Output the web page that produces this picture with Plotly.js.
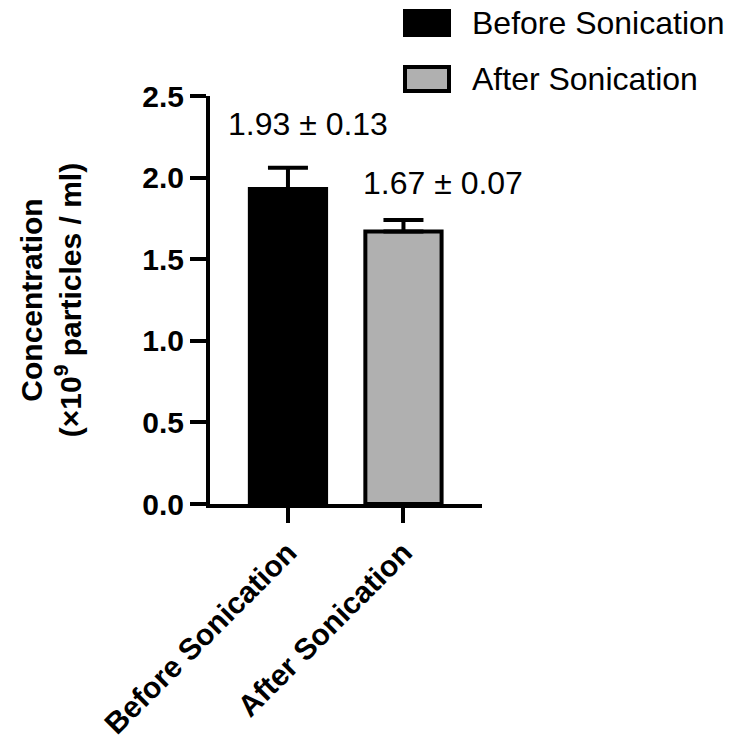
<!DOCTYPE html>
<html>
<head>
<meta charset="utf-8">
<script src="https://cdn.plot.ly/plotly-3.0.1.min.js"></script>
<style>html,body{margin:0;padding:0;background:#fff;}#chart{width:735px;height:738px;}</style>
</head>
<body>
<div id="chart"></div>
<script>
// ---- data ----
const categories = ["Before Sonication", "After Sonication"];
const means = [1.93, 1.67];
const sds = [0.13, 0.07];
const barColors = ["#000000", "#b0b0b0"];
const yTickVals = [0, 0.5, 1.0, 1.5, 2.0, 2.5];

// ---- layout helpers (pixel -> paper) ----
const W = 735, H = 738;
const M = {l: 210, r: 253, t: 96, b: 234};
const pw = W - M.l - M.r, ph = H - M.t - M.b;
const px = x => (x - M.l) / pw;
const py = y => (H - M.b - y) / ph;

const FONT = "Liberation Sans, Arial, Helvetica, sans-serif";

const traces = categories.map((c, i) => ({
  type: "bar",
  name: c,
  x: [c],
  y: [means[i]],
  width: 0.66,
  marker: {color: barColors[i], line: {color: "#000", width: 4}},
  error_y: {type: "data", symmetric: false, array: [sds[i]], arrayminus: [0],
            color: "#000", thickness: 4, width: 20},
  showlegend: false,
  hoverinfo: "skip"
}));

const annXShift = [20, 40];
const annY = [2.33, 1.965];
const annotations = categories.map((c, i) => ({
  x: c, y: annY[i], xref: "x", yref: "y", xshift: annXShift[i],
  text: means[i].toFixed(2) + " ± " + sds[i].toFixed(2),
  showarrow: false, xanchor: "center", yanchor: "middle",
  font: {family: FONT, size: 32, color: "#000"}
}));

// custom legend
const legendRows = [{y0: 9, y1: 37}, {y0: 65, y1: 93}];
const shapes = [];
categories.forEach((c, i) => {
  const r = legendRows[i];
  shapes.push({type: "rect", xref: "paper", yref: "paper",
    x0: px(405), x1: px(449), y0: py(r.y1 - 2), y1: py(r.y0 + 2),
    fillcolor: barColors[i], line: {color: "#000", width: 4}});
  annotations.push({xref: "paper", yref: "paper", x: px(470), y: py((r.y0 + r.y1) / 2),
    text: c, showarrow: false, xanchor: "left", yanchor: "middle",
    font: {family: FONT, size: 32, color: "#000"}});
});

const layout = {
  width: W, height: H,
  margin: M,
  paper_bgcolor: "#fff", plot_bgcolor: "#fff",
  barmode: "overlay",
  showlegend: false,
  font: {family: FONT, color: "#000"},
  xaxis: {
    type: "category", range: [-0.675, 1.68],
    showline: true, linecolor: "#000", linewidth: 4,
    ticks: "outside", ticklen: 15, tickwidth: 4, tickcolor: "#000",
    tickangle: -45, showgrid: false, zeroline: false,
    tickfont: {family: FONT, size: 30, color: "#000", weight: "bold"}
  },
  yaxis: {
    range: [0, 2.5], tickvals: yTickVals, tickformat: ".1f",
    showline: true, linecolor: "#000", linewidth: 4,
    ticks: "outside", ticklen: 16, tickwidth: 4, tickcolor: "#000",
    showgrid: false, zeroline: false,
    tickfont: {family: FONT, size: 30, color: "#000", weight: "bold"},
    title: {text: "Concentration<br>(×10<sup>9</sup> particles / ml)", standoff: 53,
            font: {family: FONT, size: 30, color: "#000", weight: "bold"}}
  },
  shapes: shapes,
  annotations: annotations
};

Plotly.newPlot("chart", traces, layout, {displayModeBar: false, staticPlot: true});
</script>
</body>
</html>
